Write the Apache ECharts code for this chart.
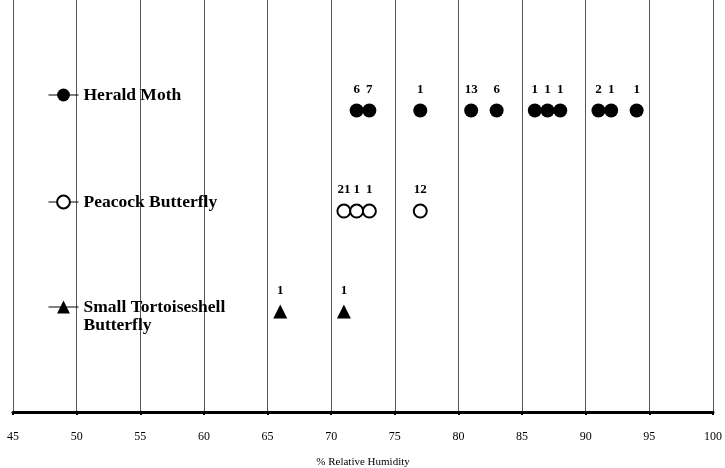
<!DOCTYPE html>
<html>
<head>
<meta charset="utf-8">
<script src="https://cdn.jsdelivr.net/npm/echarts@6/dist/echarts.min.js"></script>
<style>
  html, body { margin: 0; padding: 0; background: #fff; }
  #chart { width: 725px; height: 468px; }
</style>
</head>
<body>
<div id="chart"></div>
<script>
"use strict";

// 湿度 (%RH) 与个体数
let heraldRH = [72, 73, 77, 81, 83, 86, 87, 88, 91, 92, 94];
let heraldN = [6, 7, 1, 13, 6, 1, 1, 1, 2, 1, 1];
let peacockRH = [71, 72, 73, 77];
let peacockN = [21, 1, 1, 12];
let tortRH = [66, 71];
let tortN = [1, 1];

// 各物种所在行
let heraldRow = 3;
let peacockRow = 2;
let tortRow = 1;

let serif = "'Liberation Serif', 'Times New Roman', serif";

let myChart = echarts.init(document.getElementById('chart'));

function rows(xs, ns, row) {
    return xs.map(function (x, i) { return [x, row, ns[i]]; });
}

function legendAt(name, top, formatter) {
    let lg = {
        data: [name],
        left: 48,
        top: top,
        padding: 0,
        itemWidth: 30,
        itemHeight: 16,
        itemGap: 0,
        selectedMode: false,
        lineStyle: { color: '#000', width: 1, opacity: 1 },
        textStyle: {
            fontFamily: serif,
            fontWeight: 'bold',
            fontSize: 17.5,
            lineHeight: 18,
            color: '#000',
        },
    };
    if (formatter) {
        lg.formatter = formatter;
    }
    return lg;
}

let labelStyle = {
    show: true,
    position: 'top',
    distance: 7,
    fontFamily: serif,
    fontWeight: 'bold',
    fontSize: 13,
    color: '#000',
    formatter: function (p) { return p.value[2]; },
};

let option = {
    animation: false,
    grid: { left: 13, right: 12, top: 0, bottom: 56, outerBoundsMode: 'none' },
    legend: [
        legendAt('Herald Moth', 86),
        legendAt('Peacock Butterfly', 193),
        // 第一行与图标对齐：在前面垫一个空行
        legendAt('Small Tortoiseshell Butterfly', 280, function () {
            return ' \nSmall Tortoiseshell\nButterfly';
        }),
    ],
    xAxis: {
        type: 'value',
        min: 45,
        max: 100,
        interval: 5,
        name: '% Relative Humidity',
        nameLocation: 'middle',
        nameGap: 45,
        nameTextStyle: { fontFamily: serif, fontSize: 11, color: '#000' },
        axisLine: { show: true, lineStyle: { color: '#000', width: 3 } },
        axisTick: { show: true, length: 3, lineStyle: { color: '#000', width: 2 } },
        axisLabel: { fontFamily: serif, fontSize: 12, color: '#000', margin: 19 },
        splitLine: { show: true, lineStyle: { color: '#555', width: 1 } },
    },
    yAxis: {
        type: 'value',
        min: 0,
        max: 4.1,
        show: false,
        splitLine: { show: false },
    },
    series: [
        {
            name: 'Herald Moth',
            type: 'line',
            data: rows(heraldRH, heraldN, heraldRow),
            symbol: 'circle',
            symbolSize: 14,
            itemStyle: { color: '#000' },
            lineStyle: { opacity: 0 },
            label: labelStyle,
        },
        {
            name: 'Peacock Butterfly',
            type: 'line',
            data: rows(peacockRH, peacockN, peacockRow),
            symbol: 'emptyCircle',
            symbolSize: 13,
            itemStyle: { color: '#000', borderColor: '#000', borderWidth: 1 },
            lineStyle: { opacity: 0 },
            label: labelStyle,
        },
        {
            name: 'Small Tortoiseshell Butterfly',
            type: 'line',
            data: rows(tortRH, tortN, tortRow),
            symbol: 'triangle',
            symbolSize: 14,
            itemStyle: { color: '#000' },
            lineStyle: { opacity: 0 },
            label: labelStyle,
        },
    ],
};

myChart.setOption(option);
</script>
</body>
</html>
